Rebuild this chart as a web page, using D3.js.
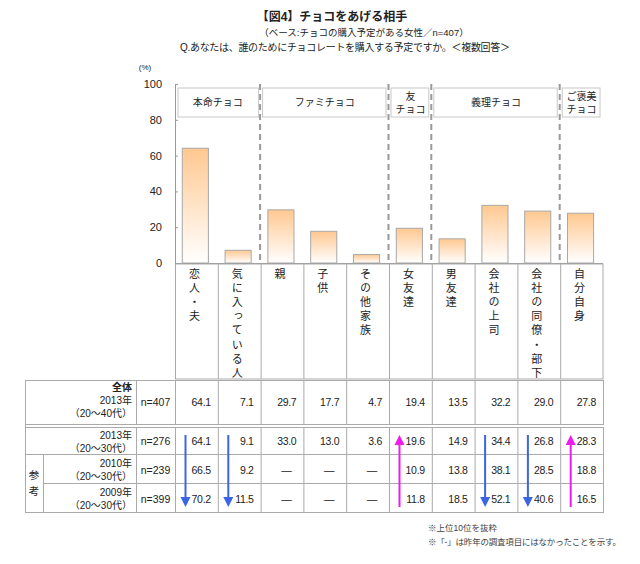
<!DOCTYPE html>
<html>
<head>
<meta charset="utf-8">
<script src="https://cdn.jsdelivr.net/npm/d3@7"></script>
<style>
  body { margin: 0; background: #fff; }
  svg { font-family: "Liberation Sans", "Noto Sans CJK JP", sans-serif; }
  text { fill: #222; }
</style>
</head>
<body>
<svg id="chart" width="640" height="564"></svg>
<script>
// data
const categories = ['恋人・夫', '気に入っている人', '親', '子供', 'その他家族', '女友達', '男友達', '会社の上司', '会社の同僚・部下', '自分自身'];
const total2013 = [64.1, 7.1, 29.7, 17.7, 4.7, 19.4, 13.5, 32.2, 29.0, 27.8];
const young2013 = [64.1, 9.1, 33.0, 13.0, 3.6, 19.6, 14.9, 34.4, 26.8, 28.3];
const young2010 = [66.5, 9.2, null, null, null, 10.9, 13.8, 38.1, 28.5, 18.8];
const young2009 = [70.2, 11.5, null, null, null, 11.8, 18.5, 52.1, 40.6, 16.5];
const groups = [
  { name: ['本命チョコ'], from: 0, to: 1 },
  { name: ['ファミチョコ'], from: 2, to: 4 },
  { name: ['友', 'チョコ'], from: 5, to: 5 },
  { name: ['義理チョコ'], from: 6, to: 8 },
  { name: ['ご褒美', 'チョコ'], from: 9, to: 9 }
];
const downArrows = [0, 1, 7, 8];
const upArrows = [5, 9];
const yTicks = [0, 20, 40, 60, 80, 100];

const svg = d3.select('#chart');
const grid = '#aaa';

const x = d3.scaleBand().domain(d3.range(categories.length)).range([175, 603]);
const y = d3.scaleLinear().domain([0, 100]).range([263, 84]);
const bw = x.bandwidth();

// titles
svg.append('text').attr('x', 332).attr('y', 21).attr('text-anchor', 'middle')
  .style('font-size', '12px').style('font-weight', 'bold').text('【図4】チョコをあげる相手');
svg.append('text').attr('x', 364).attr('y', 36).attr('text-anchor', 'middle')
  .style('font-size', '9.5px').text('（ベース:チョコの購入予定がある女性／n=407）');
svg.append('text').attr('x', 345).attr('y', 51).attr('text-anchor', 'middle')
  .style('font-size', '10px').attr('textLength', 330).text('Q.あなたは、誰のためにチョコレートを購入する予定ですか。＜複数回答＞');

svg.append('text').attr('x', 145).attr('y', 70).attr('text-anchor', 'middle')
  .style('font-size', '8px').text('(%)');

// gradient for bars
const grad = svg.append('defs').append('linearGradient')
  .attr('id', 'barGrad').attr('x1', 0).attr('y1', 0).attr('x2', 0).attr('y2', 1);
grad.append('stop').attr('offset', '0%').attr('stop-color', '#ffc890');
grad.append('stop').attr('offset', '100%').attr('stop-color', '#ffffff');

// y axis
const yAxis = svg.append('g').attr('transform', 'translate(175,0)')
  .call(d3.axisRight(y).tickValues(yTicks).tickSize(3).tickFormat(''));
yAxis.select('.domain').attr('stroke', '#999');
yAxis.selectAll('.tick line').attr('stroke', '#999');
svg.selectAll('.ylab').data(yTicks).enter().append('text')
  .attr('x', 162).attr('y', d => y(d) + 4).attr('text-anchor', 'end')
  .style('font-size', '11px').text(d => d);

// group dashed separators
const bounds = groups.slice(1).map(g => x(g.from));
svg.selectAll('.sep').data(bounds).enter().append('line')
  .attr('x1', d => d - 0.5).attr('x2', d => d - 0.5)
  .attr('y1', y(100)).attr('y2', y(0))
  .attr('stroke', '#999').attr('stroke-width', 2).attr('stroke-dasharray', '6,4');

// group boxes
const gBox = svg.selectAll('.grp').data(groups).enter().append('g');
gBox.append('rect')
  .attr('x', d => x(d.from) + (d.from === 0 ? 3 : 2))
  .attr('y', 88)
  .attr('width', d => x(d.to) + bw - x(d.from) - 5)
  .attr('height', 29)
  .attr('fill', '#fff').attr('stroke', '#c8c8c8');
gBox.each(function (d) {
  const cx = (x(d.from) + x(d.to) + bw) / 2;
  const lines = d.name;
  const t0 = lines.length === 1 ? 106 : 100;
  lines.forEach((s, i) => {
    d3.select(this).append('text').attr('x', cx).attr('y', t0 + i * 13)
      .attr('text-anchor', 'middle').style('font-size', '10px').text(s);
  });
});

// bars
svg.selectAll('.bar').data(total2013).enter().append('rect')
  .attr('x', (d, i) => x(i) + bw * 0.17)
  .attr('y', d => y(d))
  .attr('width', bw * 0.61)
  .attr('height', d => y(0) - y(d))
  .attr('fill', 'url(#barGrad)').attr('stroke', '#a8a8a8');

// x axis line
svg.append('line').attr('x1', 175).attr('x2', 603).attr('y1', 263.5).attr('y2', 263.5)
  .attr('stroke', '#999');

// vertical category labels
const lab = svg.append('g');
lab.append('rect').attr('x', 175.5).attr('y', 264).attr('width', 427.5).attr('height', 115)
  .attr('fill', 'none').attr('stroke', grid);
categories.forEach((c, i) => {
  if (i > 0) {
    lab.append('line').attr('x1', x(i) + 0.5).attr('x2', x(i) + 0.5)
      .attr('y1', 264).attr('y2', 379).attr('stroke', grid);
  }
  lab.append('text').attr('x', x(i) + bw / 2 - 2).attr('y', 268)
    .style('writing-mode', 'vertical-rl').style('font-size', '11px')
    .style('letter-spacing', '3.2px')
    .style('font-family', '"Noto Sans CJK JP", sans-serif').text(c);
});

// table
const tbl = svg.append('g');
const rows = [
  { top: 380, bot: 424, labels: ['全体', '2013年', '（20～40代）'], n: 'n=407', vals: total2013, ly: [391, 404, 417], vy: 406 },
  { top: 427, bot: 454, labels: ['2013年', '（20～30代）'], n: 'n=276', vals: young2013, ly: [439, 452], vy: 445 },
  { top: 454, bot: 483, labels: ['2010年', '（20～30代）'], n: 'n=239', vals: young2010, ly: [467, 480], vy: 474 },
  { top: 483, bot: 512, labels: ['2009年', '（20～30代）'], n: 'n=399', vals: young2009, ly: [496, 509], vy: 503 }
];
const colX = [25, 136, 175].concat(d3.range(1, categories.length).map(i => x(i)), [603]);

rows.forEach((r, ri) => {
  const left = ri >= 2 ? 43 : 25;
  tbl.append('line').attr('x1', left).attr('x2', 603).attr('y1', r.top + 0.5).attr('y2', r.top + 0.5).attr('stroke', grid);
  tbl.append('line').attr('x1', left).attr('x2', 603).attr('y1', r.bot + 0.5).attr('y2', r.bot + 0.5).attr('stroke', grid);
  colX.slice(1).forEach(cx => {
    tbl.append('line').attr('x1', cx + 0.5).attr('x2', cx + 0.5).attr('y1', r.top).attr('y2', r.bot + 1).attr('stroke', grid);
  });
  r.labels.forEach((s, k) => {
    tbl.append('text').attr('x', 132).attr('y', r.ly[k]).attr('text-anchor', 'end')
      .style('font-size', '10px')
      .style('font-weight', ri === 0 && k === 0 ? 'bold' : 'normal').text(s);
  });
  tbl.append('text').attr('x', 155.5).attr('y', r.vy).attr('text-anchor', 'middle')
    .style('font-size', '10.5px').text(r.n);
  r.vals.forEach((v, i) => {
    tbl.append('text')
      .attr('x', x(i) + bw - (v === null ? 12 : 7)).attr('y', r.vy).attr('text-anchor', 'end')
      .style('font-size', '10.5px').style('letter-spacing', '-0.3px')
      .text(v === null ? '―' : v.toFixed(1));
  });
});
// outer left border and 参考 cell
tbl.append('line').attr('x1', 25.5).attr('x2', 25.5).attr('y1', 380).attr('y2', 513).attr('stroke', grid);
tbl.append('line').attr('x1', 43.5).attr('x2', 43.5).attr('y1', 454).attr('y2', 513).attr('stroke', grid);
tbl.append('line').attr('x1', 25).attr('x2', 44).attr('y1', 512.5).attr('y2', 512.5).attr('stroke', grid);
['参', '考'].forEach((ch, k) => {
  tbl.append('text').attr('x', 34).attr('y', 479 + k * 16).attr('text-anchor', 'middle')
    .style('font-size', '10.5px').text(ch);
});

// trend arrows
function arrow(i, up, color) {
  const ax = x(i) + 10.5;
  const yStart = up ? 507 : 435;
  const yEnd = up ? 435 : 507;
  const dir = up ? 1 : -1;
  svg.append('line').attr('x1', ax).attr('x2', ax)
    .attr('y1', yStart).attr('y2', yEnd + dir * 8)
    .attr('stroke', color).attr('stroke-width', 2);
  svg.append('path')
    .attr('d', `M${ax - 5},${yEnd + dir * 10}L${ax + 5},${yEnd + dir * 10}L${ax},${yEnd}Z`)
    .attr('fill', color);
}
downArrows.forEach(i => arrow(i, false, '#3a66e6'));
upArrows.forEach(i => arrow(i, true, '#ee1aee'));

// footnotes
svg.append('text').attr('x', 428).attr('y', 531).style('font-size', '8.5px').style('fill', '#444')
  .text('※上位10位を抜粋');
svg.append('text').attr('x', 428).attr('y', 545).style('font-size', '8.5px').style('fill', '#444')
  .style('letter-spacing', '-0.2px').text('※「-」は昨年の調査項目にはなかったことを示す。');
</script>
</body>
</html>
